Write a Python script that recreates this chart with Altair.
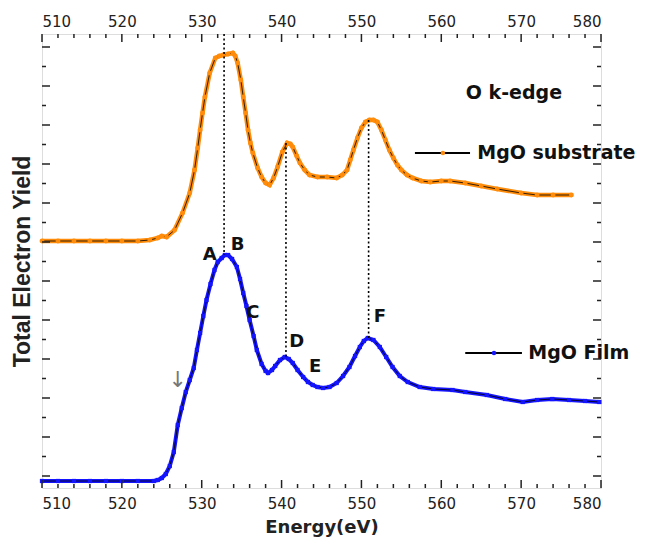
import altair as alt
import pandas as pd

# ---------------- data (yield in arbitrary units) ----------------
film_ev = [510, 512, 514, 516, 518, 520, 522, 524, 524.5, 525, 525.5, 526, 526.5, 527, 527.5,
           528, 528.5, 529, 529.4, 529.8, 530.2, 530.6, 531.1, 531.6, 532.0, 532.5, 532.9,
           533.3, 533.8, 534.4, 534.8, 535.2, 535.6, 536.0, 536.5, 536.9, 537.5, 538.0, 538.3,
           538.8, 539.2, 539.8, 540.4, 540.9, 541.4, 542.0, 542.7, 543.3, 543.9, 544.5, 545.2,
           546.0, 546.9, 547.7, 548.5, 549.2, 549.8, 550.3, 550.8, 551.5, 552.3, 553.1, 553.9,
           554.8, 555.8, 557.3, 559, 561.4, 563, 565.7, 568, 570.2, 572, 573.9, 576, 578, 579.8]
film_y = [7, 7, 7, 7, 7, 7, 7, 7, 8, 10, 14, 22, 36, 63, 80,
          96, 108, 120, 138, 155, 172, 188, 204, 218, 226, 230, 233,
          233, 229, 221, 209, 195, 182, 168, 152, 138, 124, 117, 115,
          118, 122, 128, 131, 129, 125, 118, 111, 106, 103, 101, 100,
          101, 105, 112, 121, 132, 141, 147, 150, 148, 141, 131, 121,
          112, 106, 101, 99, 98, 96, 93, 89, 86, 88, 89, 88, 87, 86]

sub_ev = [510, 512, 514, 516, 518, 520, 522, 523.5, 524.5, 525, 525.6, 526.6, 527.6, 528.5,
          529.1, 529.5, 529.8, 530.1, 530.4, 531.0, 531.7, 532.2, 532.7, 533.3, 533.9, 534.2,
          534.5, 534.9, 535.2, 535.5, 535.8, 536.1, 536.4, 537.0, 537.5, 538.0, 538.5, 539.0,
          539.5, 540.1, 540.7, 541.1, 541.4, 541.9, 542.3, 542.9, 543.5, 544.5, 545.7, 546.9,
          547.6, 548.2, 548.6, 549.0, 549.5, 550.0, 550.5, 551.0, 551.5, 552.0, 552.5, 553.0,
          553.5, 554.0, 554.5, 555.0, 555.7, 556.4, 557.5, 558.6, 560.0, 561.1, 563, 565, 567,
          570, 572, 574, 576.3]
sub_y = [247, 247, 247, 247, 247, 247, 247, 248, 250, 252, 251, 258, 275, 295,
         318, 340, 358, 375, 391, 415, 430, 432, 433, 434, 435, 432,
         425, 408, 391, 375, 358, 345, 335, 320, 311, 305, 303, 310,
         321, 336, 345, 344, 341, 332, 325, 318, 313, 311, 311, 310,
         313, 318, 328, 338, 350, 360, 366, 368, 368, 366, 358, 348,
         338, 330, 323, 318, 313, 310, 307, 306, 307, 307, 305, 302, 299,
         295, 293, 293, 293]

peak_ev = [532.8, 540.55, 550.9]
peak_top = [454, 345, 368]
peak_bottom = [233, 131, 150]

letters = ["A", "B", "C", "D", "E", "F"]
letter_ev = [531.0, 534.5, 536.4, 541.9, 544.2, 552.3]
letter_y = [233, 243, 175, 146, 121, 171]

x_major = [510, 520, 530, 540, 550, 560, 570, 580]
x_minor = [v for v in range(512, 580, 2) if v % 10 != 0]
y_major = [12 + 39 * k for k in range(12)]
y_minor = [31.5 + 39 * k for k in range(11)]

ORANGE = "#ff8c0a"
BLUE = "#1414ff"
W, H = 559, 454
FONT = "DejaVu Sans"
TFONT = "Liberation Sans"

xs = alt.Scale(domain=[510, 580], nice=False, zero=False)
ys = alt.Scale(domain=[0, 454], nice=False, zero=False)

film = pd.DataFrame({"ev": film_ev, "v": film_y})
sub = pd.DataFrame({"ev": sub_ev, "v": sub_y})

bottom_axis = alt.Axis(orient="bottom", values=x_major, tickSize=0, domain=False, grid=False,
                       labelFont=FONT, labelFontSize=15, labelColor="#222", labelPadding=8,
                       title="Energy(eV)", titleFont=FONT, titleFontSize=18,
                       titleFontWeight="bold", titleColor="#222", titlePadding=7)
top_axis = alt.Axis(orient="top", values=x_major, tickSize=0, domain=False, grid=False,
                    labelFont=FONT, labelFontSize=15, labelColor="#222", labelPadding=5,
                    title=None)
left_axis = alt.Axis(orient="left", labels=False, ticks=False, domain=False, grid=False,
                     title="Total Electron Yield", titleFont=TFONT, titleFontSize=23,
                     titleFontWeight="bold", titleColor="#222", titlePadding=8)


def X(ax=None):
    return alt.X("ev:Q", scale=xs, axis=ax)


def Y(ax=None):
    return alt.Y("v:Q", scale=ys, axis=ax)


sub_thick = alt.Chart(sub).mark_line(color=ORANGE, strokeWidth=4.5).encode(x=X(bottom_axis), y=Y(left_axis))
sub_thin = alt.Chart(sub).mark_line(color="black", strokeWidth=0.8).encode(x=X(), y=Y())
sub_pts = alt.Chart(sub).mark_circle(color=ORANGE, size=24, opacity=1).encode(x=X(), y=Y())

film_thick = alt.Chart(film).mark_line(color=BLUE, strokeWidth=4).encode(x=X(top_axis), y=Y())
film_thin = alt.Chart(film).mark_line(color="black", strokeWidth=0.8).encode(x=X(), y=Y())
film_pts = alt.Chart(film).mark_square(color=BLUE, size=18, opacity=1).encode(x=X(), y=Y())

peaks = pd.DataFrame({"ev": peak_ev, "top": peak_top, "bot": peak_bottom})
dotted = alt.Chart(peaks).mark_rule(color="black", strokeWidth=1.6, strokeDash=[2, 2.5]).encode(
    x=X(), y=alt.Y("top:Q", scale=ys, axis=None), y2="bot:Q")

lab = pd.DataFrame({"t": letters, "ev": letter_ev, "v": letter_y})
letter_txt = alt.Chart(lab).mark_text(font=FONT, fontSize=18, fontWeight="bold", color="#111").encode(
    x=X(), y=Y(), text="t:N")

arrow = alt.Chart(pd.DataFrame({"ev": [527.0], "v": [108], "t": ["↓"]})).mark_text(
    font="DejaVu Sans", fontSize=22, color="#777").encode(x=X(), y=Y(), text="t:N")

edge = alt.Chart(pd.DataFrame({"ev": [569.1], "v": [395], "t": ["O k-edge"]})).mark_text(
    font=FONT, fontSize=19, fontWeight="bold", color="#111").encode(x=X(), y=Y(), text="t:N")

leg = pd.DataFrame({"x1": [556.7, 563.0], "x2": [563.6, 570.1], "v": [335, 135],
                    "dot": [560.2, 566.6], "tx": [564.5, 570.9],
                    "t": ["MgO substrate", "MgO Film"], "c": [ORANGE, BLUE]})
leg_line = alt.Chart(leg).mark_rule(color="black", strokeWidth=2).encode(
    x=alt.X("x1:Q", scale=xs, axis=None), x2="x2:Q", y=Y())
leg_dot = alt.Chart(leg).mark_circle(size=20, opacity=1).encode(
    x=alt.X("dot:Q", scale=xs, axis=None), y=Y(), color=alt.Color("c:N", scale=None))
leg_txt = alt.Chart(leg).mark_text(font=FONT, fontSize=19, fontWeight="bold", color="#111",
                                   align="left").encode(
    x=alt.X("tx:Q", scale=xs, axis=None), y=Y(), text="t:N")

# inward ticks on all four sides
xM = pd.DataFrame({"ev": x_major})
xm = pd.DataFrame({"ev": x_minor})
yM = pd.DataFrame({"v": y_major})
ym = pd.DataFrame({"v": y_minor})
tk = dict(color="#222", strokeWidth=1.5)
ticks = [
    alt.Chart(xM).mark_rule(**tk).encode(x=X(), y=alt.value(H), y2=alt.value(H - 8)),
    alt.Chart(xm).mark_rule(**tk).encode(x=X(), y=alt.value(H), y2=alt.value(H - 4)),
    alt.Chart(xM).mark_rule(**tk).encode(x=X(), y=alt.value(0), y2=alt.value(8)),
    alt.Chart(xm).mark_rule(**tk).encode(x=X(), y=alt.value(0), y2=alt.value(4)),
    alt.Chart(yM).mark_rule(**tk).encode(y=Y(), x=alt.value(0), x2=alt.value(8)),
    alt.Chart(ym).mark_rule(**tk).encode(y=Y(), x=alt.value(0), x2=alt.value(4)),
    alt.Chart(yM).mark_rule(**tk).encode(y=Y(), x=alt.value(W), x2=alt.value(W - 8)),
    alt.Chart(ym).mark_rule(**tk).encode(y=Y(), x=alt.value(W), x2=alt.value(W - 4)),
]

chart = alt.layer(
    sub_thick, film_thick, sub_thin, film_thin, sub_pts, film_pts, dotted,
    letter_txt, arrow, edge, leg_line, leg_dot, leg_txt, *ticks
).resolve_axis(x="independent", y="independent").properties(
    width=W, height=H,
    autosize=alt.AutoSizeParams(type="none"),
    padding={"left": 34, "top": 26, "right": 40, "bottom": 49},
).configure_view(stroke="#222", strokeWidth=2).configure(background="white")

chart.save("out.html", embed_options={"renderer": "svg", "actions": False})
